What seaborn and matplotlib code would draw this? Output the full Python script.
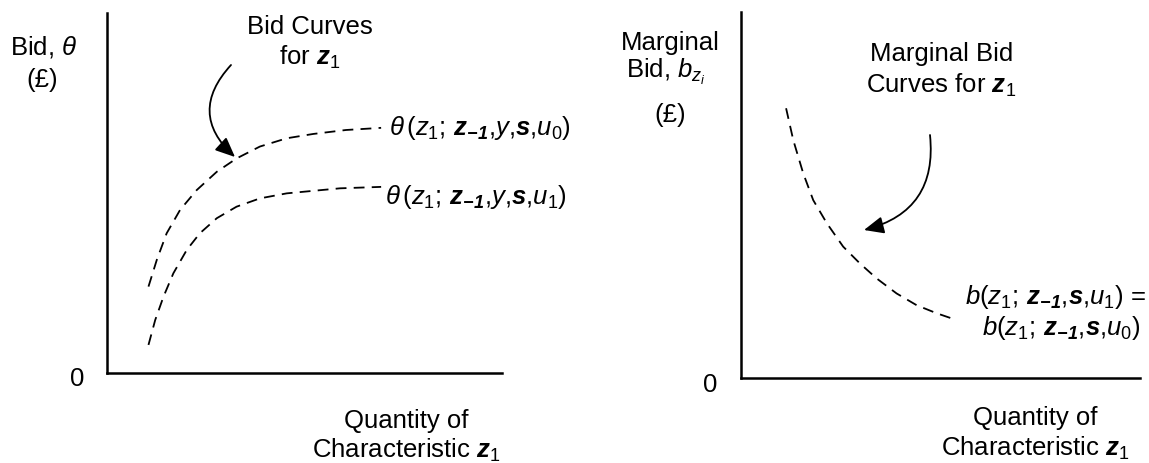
import numpy as np
import pandas as pd
import matplotlib
matplotlib.use("Agg")
import matplotlib.pyplot as plt
from matplotlib.patches import FancyArrowPatch
import seaborn as sns

# ---- data (arbitrary units 0-10) ----
bid_x_u0 = [1.05, 1.26, 1.51, 1.85, 2.27, 2.78, 3.28, 3.87, 4.55, 5.22, 6.05, 6.94]
bid_y_u0 = [2.40, 3.14, 3.88, 4.53, 5.08, 5.59, 5.96, 6.29, 6.52, 6.64, 6.75, 6.81]
bid_x_u1 = [1.05, 1.22, 1.43, 1.68, 2.02, 2.35, 2.78, 3.28, 3.87, 4.55, 5.22, 5.90, 6.94]
bid_y_u1 = [0.78, 1.47, 2.12, 2.77, 3.42, 3.88, 4.30, 4.62, 4.85, 4.99, 5.06, 5.13, 5.17]
mbid_x = [1.13, 1.31, 1.56, 1.81, 2.15, 2.56, 2.98, 3.40, 3.90, 4.40, 4.90, 5.41]
mbid_y = [7.37, 6.50, 5.59, 4.86, 4.23, 3.59, 3.13, 2.72, 2.31, 1.99, 1.77, 1.58]

label_u0 = r"$\theta\,(z_1;\,\mathbf{z_{-1}}{,}y{,}\mathbf{s}{,}u_\mathit{0})$"
label_u1 = r"$\theta\,(z_1;\,\mathbf{z_{-1}}{,}y{,}\mathbf{s}{,}u_1)$"
label_m1 = r"$b(z_1;\,\mathbf{z_{-1}}{,}\mathbf{s}{,}u_1)$ ="
label_m0 = r"$b(z_1;\,\mathbf{z_{-1}}{,}\mathbf{s}{,}u_0)$"

sns.set_theme(style="white")
plt.rcParams["font.family"] = ["Liberation Sans", "DejaVu Sans"]
plt.rcParams["mathtext.fontset"] = "custom"
plt.rcParams["mathtext.rm"] = "Liberation Sans"
plt.rcParams["mathtext.it"] = "Liberation Sans:italic"
plt.rcParams["mathtext.bf"] = "Liberation Sans:bold:italic"

W, H = 1149, 463
fig = plt.figure(figsize=(W / 100, H / 100), dpi=100)
fig.patch.set_facecolor("white")

def fx(px):
    return px / W

def fy(py):
    return 1 - py / H

FS = 18.5
ax1 = fig.add_axes([fx(107), fy(373), (502 - 107) / W, (373 - 13) / H])
ax2 = fig.add_axes([fx(741), fy(378), (1140 - 741) / W, (378 - 12) / H])

df1 = pd.DataFrame({"x": bid_x_u0 + bid_x_u1,
                    "y": bid_y_u0 + bid_y_u1,
                    "curve": ["u0"] * len(bid_x_u0) + ["u1"] * len(bid_x_u1)})
df2 = pd.DataFrame({"x": mbid_x, "y": mbid_y})

sns.lineplot(data=df1, x="x", y="y", units="curve", estimator=None,
             ax=ax1, color="black", lw=1.3, linestyle=(0, (6, 4)), sort=False)
sns.lineplot(data=df2, x="x", y="y", ax=ax2, color="black", lw=1.3,
             linestyle=(0, (6, 4)), sort=False)

for ax in (ax1, ax2):
    ax.set_xlim(0, 10)
    ax.set_ylim(0, 10)
    ax.set_xticks([])
    ax.set_yticks([])
    ax.set_xlabel("")
    ax.set_ylabel("")
    ax.patch.set_alpha(0)
    for s in ("top", "right"):
        ax.spines[s].set_visible(False)
    for s in ("left", "bottom"):
        ax.spines[s].set_color("black")
        ax.spines[s].set_linewidth(1.8)

def T(px, py, s, ha="center", **kw):
    fig.text(fx(px), fy(py), s, ha=ha, va="center", fontsize=FS,
             color="black", **kw)

# left panel texts
T(44, 47, r"Bid, $\theta$")
T(42, 80, "(£)")
T(77, 379, "0")
T(310, 27, "Bid Curves")
T(310, 57, r"for $\mathbf{z}_1$")
T(406, 421, "Quantity of")
T(406, 450, r"Characteristic $\mathbf{z}_1$")
T(389, 128, label_u0, ha="left")
T(385, 197, label_u1, ha="left")

# right panel texts
T(670, 43, "Marginal")
T(666, 72, r"Bid, $b_{z_i}$")
T(670, 115, "(£)")
T(710, 385, "0")
T(942, 54, "Marginal Bid")
T(941, 85, r"Curves for $\mathbf{z}_1$")
T(1035, 418, "Quantity of")
T(1035, 448, r"Characteristic $\mathbf{z}_1$")
T(1146, 297, label_m1, ha="right")
T(1141, 328, label_m0, ha="right")

# arrows
arrow_kw = dict(arrowstyle="-|>,head_length=0.8,head_width=0.35",
                color="black", lw=1.3, shrinkA=0, shrinkB=0)
fig.add_artist(FancyArrowPatch(
    (fx(231), fy(65)), (fx(235), fy(157)), transform=fig.transFigure,
    connectionstyle="arc3,rad=0.5", mutation_scale=15, **arrow_kw))
fig.add_artist(FancyArrowPatch(
    (fx(930), fy(135)), (fx(864), fy(230)), transform=fig.transFigure,
    connectionstyle="arc3,rad=-0.43", mutation_scale=15, **arrow_kw))

fig.savefig("out.png", dpi=100, facecolor="white")
